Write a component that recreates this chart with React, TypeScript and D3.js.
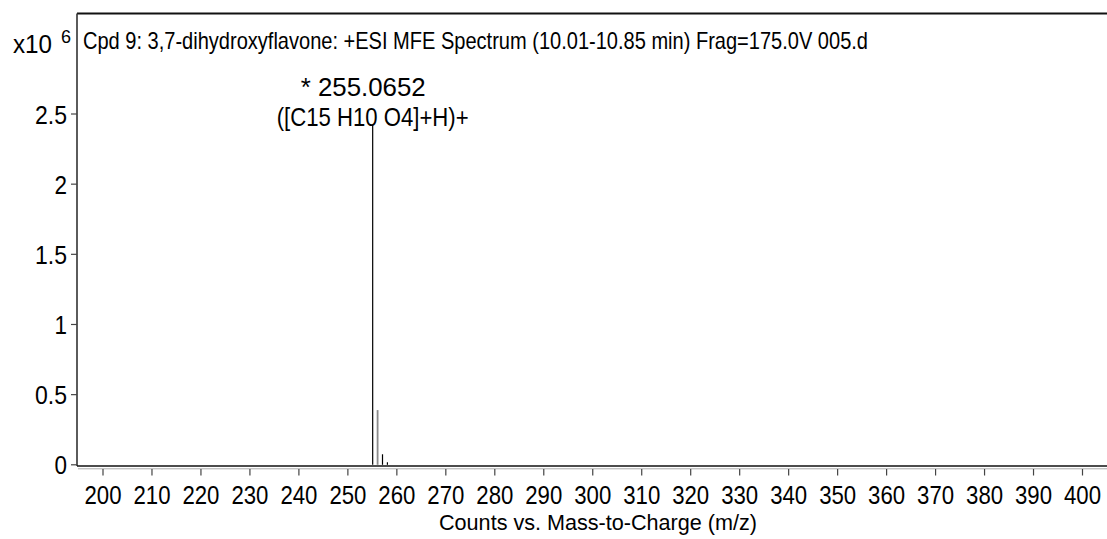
import React from "react";
import * as d3 from "d3";

// spectrum peaks (m/z, counts x10^6)
const peakMz: number[] = [255.0652, 256.068, 257.071, 258.072];
const peakCounts: number[] = [2.42, 0.39, 0.075, 0.018];
const peakColors: string[] = ["#000", "#8a8a8a", "#000", "#000"];

const xTicks: number[] = [200, 210, 220, 230, 240, 250, 260, 270, 280, 290, 300, 310, 320, 330, 340, 350, 360, 370, 380, 390, 400];
const yTicks: number[] = [0, 0.5, 1, 1.5, 2, 2.5];
const yTickLabels: string[] = ["0", "0.5", "1", "1.5", "2", "2.5"];

const title = "Cpd 9: 3,7-dihydroxyflavone: +ESI MFE Spectrum (10.01-10.85 min) Frag=175.0V 005.d";
const annotLine1 = "* 255.0652";
const annotLine2 = "([C15 H10 O4]+H)+";
const xLabel = "Counts vs. Mass-to-Charge (m/z)";

const App: React.FC = () => {
    const width = 1107;
    const height = 539;
    const frameLeft = 77;
    const frameTop = 13.5;
    const frameBottom = 466;
    const font = "'Liberation Sans', Arial, Helvetica, sans-serif";

    const xScale = d3.scaleLinear().domain([200, 400]).range([103, 1082.5]);
    const yScale = d3.scaleLinear().domain([0, 2.5]).range([464.8, 114]);

    const mainX = xScale(peakMz[0]);

    return (
        <div style={{ position: "fixed", left: 0, top: 0 }}>
            <svg width={width} height={height} style={{ display: "block", background: "#fff" }} fontFamily={font}>
                {/* frame */}
                <line x1={frameLeft} y1={frameTop} x2={width} y2={frameTop} stroke="#111" strokeWidth={1.8} />
                <line x1={frameLeft} y1={frameTop} x2={frameLeft} y2={frameBottom} stroke="#333" strokeWidth={1.6} />
                <line x1={frameLeft} y1={frameBottom} x2={width} y2={frameBottom} stroke="#111" strokeWidth={1.4} />
                <line x1={frameLeft + 1} y1={468.8} x2={width} y2={468.8} stroke="#aaa" strokeWidth={1} />

                {/* peaks */}
                {peakMz.map((mz, i) => (
                    <line
                        key={`peak-${i}`}
                        x1={xScale(mz)}
                        x2={xScale(mz)}
                        y1={yScale(0)}
                        y2={yScale(peakCounts[i])}
                        stroke={peakColors[i]}
                        strokeWidth={i === 1 ? 1.8 : 1.2}
                    />
                ))}

                {/* y axis */}
                {yTicks.map((t, i) => (
                    <g key={`yt-${i}`}>
                        <line x1={71} x2={frameLeft} y1={yScale(t)} y2={yScale(t)} stroke="#444" strokeWidth={1.2} />
                        <text
                            x={67}
                            y={yScale(t) + 9.5}
                            textAnchor="end"
                            fontSize={26.5}
                            textLength={yTickLabels[i].length > 1 ? 32 : 12.5}
                            lengthAdjust="spacingAndGlyphs"
                            fill="#000"
                        >
                            {yTickLabels[i]}
                        </text>
                    </g>
                ))}
                <text x={13} y={53} fontSize={25} textLength={39} lengthAdjust="spacingAndGlyphs" fill="#000">x10</text>
                <text x={61} y={43} fontSize={18} fill="#000">6</text>

                {/* x axis */}
                {xTicks.map(t => (
                    <g key={`xt-${t}`}>
                        <line x1={xScale(t)} x2={xScale(t)} y1={469} y2={475.5} stroke="#444" strokeWidth={1.2} />
                        <text
                            x={xScale(t)}
                            y={504}
                            textAnchor="middle"
                            fontSize={26.5}
                            textLength={37}
                            lengthAdjust="spacingAndGlyphs"
                            fill="#000"
                        >
                            {t}
                        </text>
                    </g>
                ))}
                <text x={439} y={530} fontSize={22.5} textLength={318} lengthAdjust="spacingAndGlyphs" fill="#000">
                    {xLabel}
                </text>

                {/* title */}
                <text x={83} y={49} fontSize={24} textLength={785} lengthAdjust="spacingAndGlyphs" fill="#000">
                    {title}
                </text>

                {/* annotation */}
                <text x={mainX - 72} y={96} fontSize={25} textLength={125} lengthAdjust="spacingAndGlyphs" fill="#000">
                    {annotLine1}
                </text>
                <text x={mainX - 96} y={126} fontSize={25} textLength={192} lengthAdjust="spacingAndGlyphs" fill="#000">
                    {annotLine2}
                </text>
            </svg>
        </div>
    );
};

export default App;
